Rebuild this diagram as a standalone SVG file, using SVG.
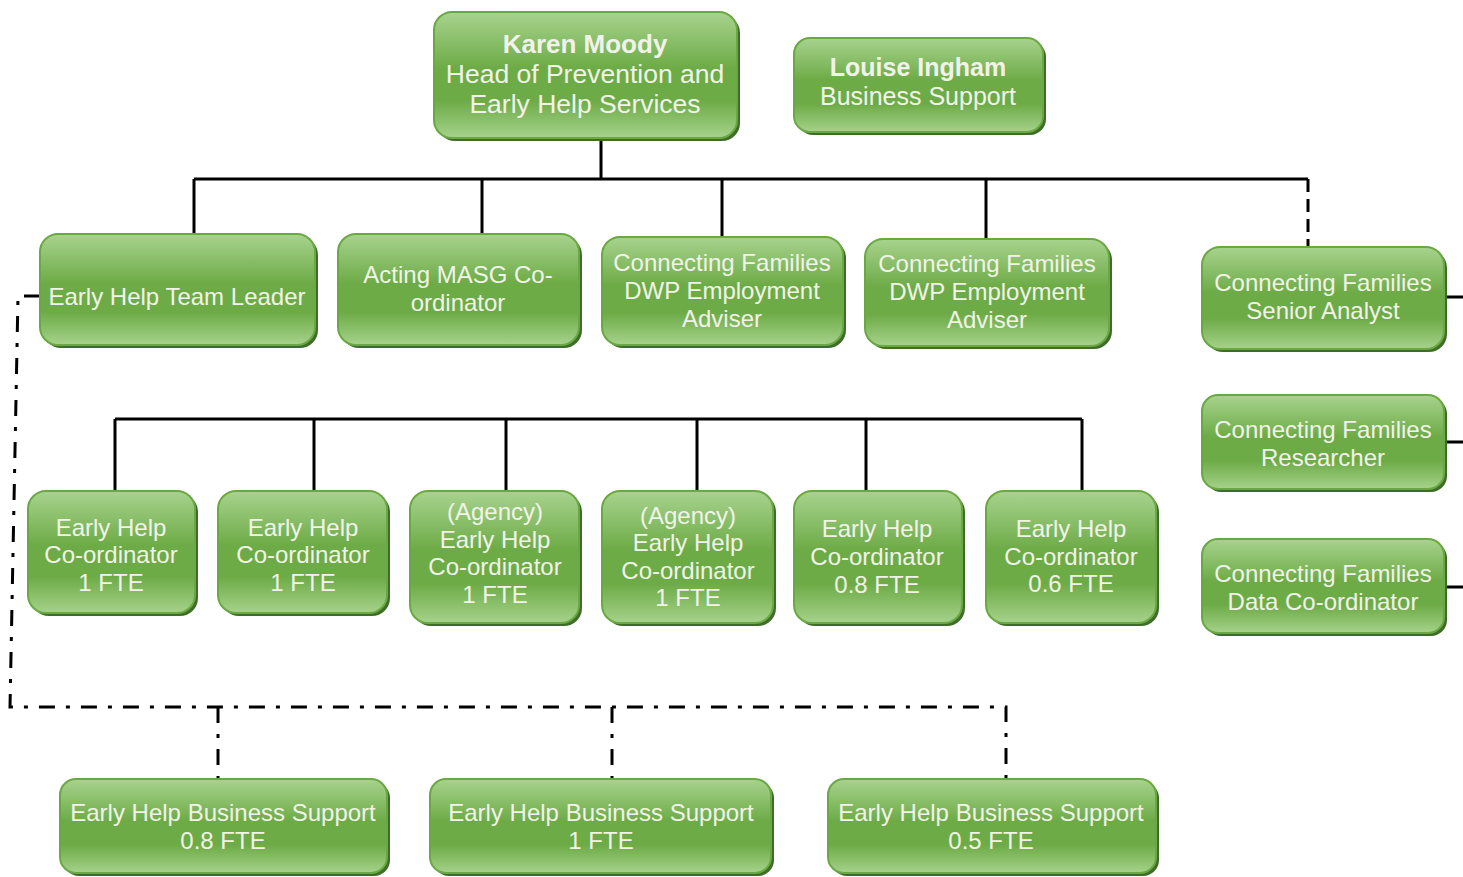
<svg xmlns="http://www.w3.org/2000/svg" width="1463" height="877" viewBox="0 0 1463 877">
<defs>
<linearGradient id="g" x1="0" y1="0" x2="0" y2="1">
<stop offset="0" stop-color="#a8d38e"/>
<stop offset="0.45" stop-color="#6dab46"/>
<stop offset="0.7" stop-color="#6dab46"/>
<stop offset="1" stop-color="#a6d28b"/>
</linearGradient>
</defs>
<style>
.sh{fill:#3f6d29}
.bx{fill:url(#g);stroke:#6aa843;stroke-width:2}
text{font-family:"Liberation Sans",Arial,sans-serif;font-size:24px;fill:#f1f3ea;text-anchor:middle}
.b{font-weight:bold}
.ln{stroke:#000;stroke-width:3;fill:none}
.da{stroke-dasharray:13 7}
.dd{stroke-dasharray:16 11 4 11}
</style>
<g id="connectors">
<path class="ln" d="M601 140V179M194 179H1308M194 179V234M482 179V234M722 179V237M986 179V239"/>
<path class="ln da" d="M1308 179V247"/>
<path class="ln" d="M1444 297H1463M1444 442H1463M1444 587H1463"/>
<path class="ln" d="M115 419H1082M115 419V491M314 419V491M506 419V491M697 419V491M866 419V491M1082 419V491"/>
<path class="ln dd" d="M40 296H18L10 707H1006V779M218 707V779M612 707V779"/>
</g>
<g id="karen"><rect class="sh" x="437" y="15" width="303" height="126" rx="18"/><rect class="bx" x="434" y="12" width="303" height="126" rx="18"/>
<text x="585" y="53" class="b" style="font-size:26px">Karen Moody</text><text x="585" y="83" style="font-size:26.5px">Head of Prevention and</text><text x="585" y="113" style="font-size:26.5px">Early Help Services</text></g>
<g id="louise"><rect class="sh" x="797" y="41" width="249" height="94" rx="16"/><rect class="bx" x="794" y="38" width="249" height="94" rx="16"/>
<text x="918" y="76" class="b" style="font-size:25px">Louise Ingham</text><text x="918" y="105" style="font-size:25px">Business Support</text></g>
<g id="team-leader"><rect class="sh" x="43" y="237" width="275" height="111" rx="18"/><rect class="bx" x="40" y="234" width="275" height="111" rx="18"/>
<text x="177" y="305">Early Help Team Leader</text></g>
<g id="masg"><rect class="sh" x="341" y="237" width="241" height="111" rx="18"/><rect class="bx" x="338" y="234" width="241" height="111" rx="18"/>
<text x="458" y="283">Acting MASG Co-</text><text x="458" y="311">ordinator</text></g>
<g id="dwp1"><rect class="sh" x="605" y="240" width="241" height="108" rx="18"/><rect class="bx" x="602" y="237" width="241" height="108" rx="18"/>
<text x="722" y="271">Connecting Families</text><text x="722" y="299">DWP Employment</text><text x="722" y="327">Adviser</text></g>
<g id="dwp2"><rect class="sh" x="868" y="242" width="244" height="107" rx="18"/><rect class="bx" x="865" y="239" width="244" height="107" rx="18"/>
<text x="987" y="272">Connecting Families</text><text x="987" y="300">DWP Employment</text><text x="987" y="328">Adviser</text></g>
<g id="senior-analyst"><rect class="sh" x="1205" y="250" width="242" height="102" rx="18"/><rect class="bx" x="1202" y="247" width="242" height="102" rx="18"/>
<text x="1323" y="291">Connecting Families</text><text x="1323" y="319">Senior Analyst</text></g>
<g id="researcher"><rect class="sh" x="1205" y="398" width="242" height="94" rx="16"/><rect class="bx" x="1202" y="395" width="242" height="94" rx="16"/>
<text x="1323" y="438">Connecting Families</text><text x="1323" y="466">Researcher</text></g>
<g id="data-coord"><rect class="sh" x="1205" y="542" width="242" height="94" rx="16"/><rect class="bx" x="1202" y="539" width="242" height="94" rx="16"/>
<text x="1323" y="582">Connecting Families</text><text x="1323" y="610">Data Co-ordinator</text></g>
<g id="ehc1"><rect class="sh" x="31" y="494" width="167" height="122" rx="18"/><rect class="bx" x="28" y="491" width="167" height="122" rx="18"/>
<text x="111" y="536">Early Help</text><text x="111" y="563">Co-ordinator</text><text x="111" y="591">1 FTE</text></g>
<g id="ehc2"><rect class="sh" x="221" y="494" width="169" height="122" rx="18"/><rect class="bx" x="218" y="491" width="169" height="122" rx="18"/>
<text x="303" y="536">Early Help</text><text x="303" y="563">Co-ordinator</text><text x="303" y="591">1 FTE</text></g>
<g id="agency1"><rect class="sh" x="413" y="494" width="169" height="132" rx="18"/><rect class="bx" x="410" y="491" width="169" height="132" rx="18"/>
<text x="495" y="520">(Agency)</text><text x="495" y="548">Early Help</text><text x="495" y="575">Co-ordinator</text><text x="495" y="603">1 FTE</text></g>
<g id="agency2"><rect class="sh" x="605" y="494" width="171" height="132" rx="18"/><rect class="bx" x="602" y="491" width="171" height="132" rx="18"/>
<text x="688" y="524">(Agency)</text><text x="688" y="551">Early Help</text><text x="688" y="579">Co-ordinator</text><text x="688" y="606">1 FTE</text></g>
<g id="ehc08"><rect class="sh" x="797" y="494" width="168" height="132" rx="18"/><rect class="bx" x="794" y="491" width="168" height="132" rx="18"/>
<text x="877" y="537">Early Help</text><text x="877" y="565">Co-ordinator</text><text x="877" y="593">0.8 FTE</text></g>
<g id="ehc06"><rect class="sh" x="989" y="494" width="170" height="132" rx="18"/><rect class="bx" x="986" y="491" width="170" height="132" rx="18"/>
<text x="1071" y="537">Early Help</text><text x="1071" y="565">Co-ordinator</text><text x="1071" y="592">0.6 FTE</text></g>
<g id="ehbs08"><rect class="sh" x="63" y="782" width="327" height="94" rx="16"/><rect class="bx" x="60" y="779" width="327" height="94" rx="16"/>
<text x="223" y="821">Early Help Business Support</text><text x="223" y="849">0.8 FTE</text></g>
<g id="ehbs1"><rect class="sh" x="433" y="782" width="341" height="94" rx="16"/><rect class="bx" x="430" y="779" width="341" height="94" rx="16"/>
<text x="601" y="821">Early Help Business Support</text><text x="601" y="849">1 FTE</text></g>
<g id="ehbs05"><rect class="sh" x="831" y="782" width="328" height="94" rx="16"/><rect class="bx" x="828" y="779" width="328" height="94" rx="16"/>
<text x="991" y="821">Early Help Business Support</text><text x="991" y="849">0.5 FTE</text></g>
</svg>
